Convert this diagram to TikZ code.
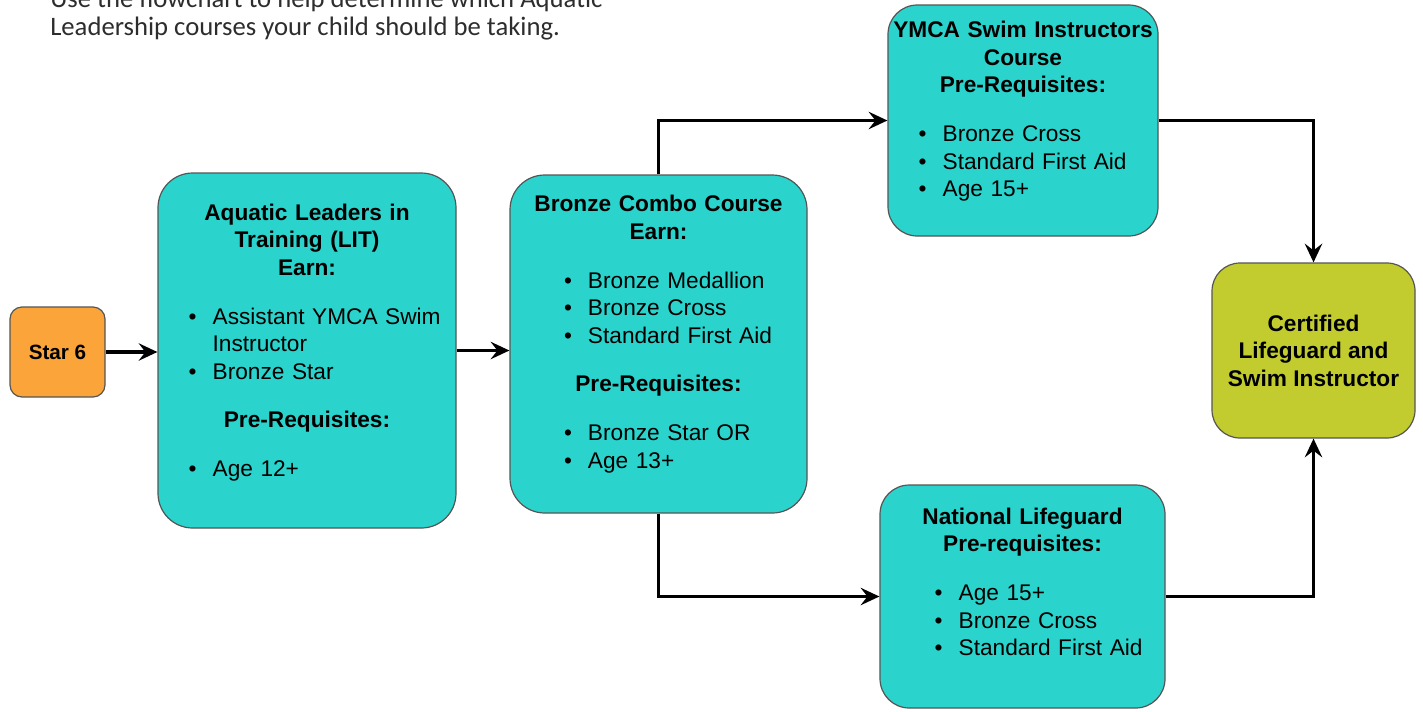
\documentclass[tikz,border=0pt]{standalone}
\usepackage{fontspec}
\setmainfont{Liberation Sans}
\newfontfamily\introfont{Carlito}
\usepackage{xcolor}
\usetikzlibrary{arrows.meta}

\definecolor{boxteal}{RGB}{42,212,204}
\definecolor{boxorange}{RGB}{250,164,58}
\definecolor{boxolive}{RGB}{194,204,46}
\definecolor{boxedge}{RGB}{85,85,85}
\definecolor{introgray}{RGB}{45,45,45}

% heading lines and bullet lines inside the boxes
\newcommand{\hd}[1]{\par{\centering\bfseries #1\par}}
\newcommand{\itm}[1]{\par\noindent\llap{\textbullet\hspace{12pt}}#1}
\newcommand{\blist}[2]{{\leftskip=#1\relax #2\par}}
\newcommand{\tail}[1]{\par\vspace{#1}\hrule height 0pt width 0pt}

\tikzset{
  course/.style={draw=boxedge, line width=0.9pt, fill=boxteal, rounded corners=26pt,
    inner sep=0pt, align=left, font=\fontsize{17}{20.6}\selectfont},
  startbox/.style={draw=boxedge, line width=0.9pt, fill=boxorange, rounded corners=9pt,
    inner sep=0pt, align=center, font=\fontsize{15.5}{19}\selectfont\bfseries},
  goalbox/.style={draw=boxedge, line width=0.9pt, fill=boxolive, rounded corners=21pt,
    inner sep=0pt, align=center, font=\fontsize{17}{20.6}\selectfont\bfseries},
  flow/.style={line width=2.8pt, -{Stealth[length=14pt,width=13pt,inset=5pt]}},
  intro/.style={anchor=base west, inner sep=0pt, text=introgray,
    font=\introfont\fontsize{20}{24}\selectfont},
}

\begin{document}
\begin{tikzpicture}[x=0.75pt,y=0.75pt,yscale=-1,xscale=1]
\useasboundingbox (0,0) rectangle (1423,711);

% Intro text (first line runs off the top)
\node[intro] (introa) at (50,7) {Use the flowchart to help determine which Aquatic};
\node[intro] (introb) at (50,35) {Leadership courses your child should be taking.};

% Start
\node[startbox, minimum width=71.25pt, minimum height=67.5pt] (star) at (57.5,352) {Star 6};

% LIT
\node[course, minimum width=223.5pt, minimum height=266.25pt, text width=223.5pt] (lit) at (307,350.5) {%
  \hd{Aquatic Leaders in\\ Training (LIT)\\ Earn:}
  \vspace{16pt}
  \blist{41pt}{\itm{Assistant YMCA Swim Instructor}\itm{Bronze Star}}
  \vspace{16pt}
  \hd{Pre-Requisites:}
  \vspace{16pt}
  \blist{41pt}{\itm{Age 12+}}
  \tail{20pt}};

% Bronze combo
\node[course, minimum width=222.75pt, minimum height=253.5pt, text width=222.75pt] (combo) at (658.5,344) {%
  \hd{Bronze Combo Course\\ Earn:}
  \vspace{16pt}
  \blist{58.5pt}{\itm{Bronze Medallion}\itm{Bronze Cross}\itm{Standard First Aid}}
  \vspace{16pt}
  \hd{Pre-Requisites:}
  \vspace{16pt}
  \blist{58.5pt}{\itm{Bronze Star OR}\itm{Age 13+}}
  \tail{23pt}};

% YMCA swim instructors
\node[course, rounded corners=22pt, minimum width=202.5pt, minimum height=173.25pt, text width=202.5pt] (ymca) at (1023,120.5) {%
  \hd{YMCA Swim Instructors\\ Course\\ Pre-Requisites:}
  \vspace{16pt}
  \blist{41pt}{\itm{Bronze Cross}\itm{Standard First Aid}\itm{Age 15+}}
  \tail{22pt}};

% National lifeguard
\node[course, rounded corners=22pt, minimum width=213.75pt, minimum height=167.25pt, text width=213.75pt] (natl) at (1022.5,596.5) {%
  \hd{National Lifeguard\\ Pre-requisites:}
  \vspace{16pt}
  \blist{59pt}{\itm{Age 15+}\itm{Bronze Cross}\itm{Standard First Aid}}
  \tail{30pt}};

% Goal
\node[goalbox, minimum width=152.25pt, minimum height=131.25pt] (cert) at (1313.5,350.5) {Certified\\ Lifeguard and\\ Swim Instructor};

% Connectors
\draw[flow] (star.east) -- (star.east -| lit.west);
\draw[flow] (lit.east) -- (lit.east -| combo.west);
\draw[flow] (combo.north) |- (ymca.west);
\draw[flow] (combo.south) |- (natl.west);
\draw[flow] (ymca.east) -| (cert.north);
\draw[flow] (natl.east) -| (cert.south);

\end{tikzpicture}
\end{document}
